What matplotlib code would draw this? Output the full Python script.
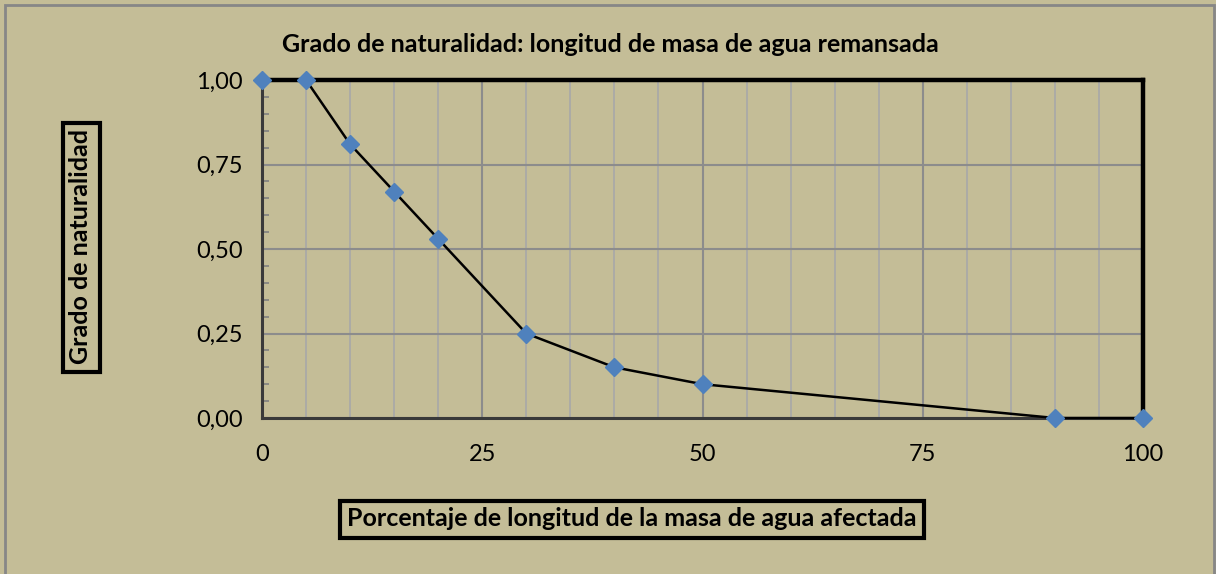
import matplotlib
matplotlib.use("Agg")
import matplotlib.pyplot as plt
from matplotlib.patches import Rectangle
from matplotlib.ticker import MultipleLocator, FuncFormatter

# Data
pct_afectada = [0, 5, 10, 15, 20, 30, 40, 50, 90, 100]
grado = [1.00, 1.00, 0.81, 0.67, 0.53, 0.25, 0.15, 0.10, 0.00, 0.00]
x_ticks = [0, 25, 50, 75, 100]
y_ticks = [0.00, 0.25, 0.50, 0.75, 1.00]

title = "Grado de naturalidad: longitud de masa de agua remansada"
xlabel = "Porcentaje de longitud de la masa de agua afectada"
ylabel = "Grado de naturalidad"

BG = "#C4BD97"
plt.rcParams['font.family'] = ['Lato', 'DejaVu Sans']

W, H = 1216, 574
fig = plt.figure(figsize=(W / 100, H / 100), dpi=100, facecolor=BG)

# outer border
fig.add_artist(Rectangle((5 / W, -0.01), (1214 - 5) / W, (574 - 5) / H + 0.01,
                         transform=fig.transFigure, fill=False,
                         edgecolor="#878787", lw=2))

x0, x1 = 262, 1143
yt, yb = 80, 418
ax = fig.add_axes([x0 / W, 1 - yb / H, (x1 - x0) / W, (yb - yt) / H])
ax.set_facecolor(BG)
ax.set_xlim(0, 100)
ax.set_ylim(0, 1)

ax.xaxis.set_major_locator(MultipleLocator(25))
ax.xaxis.set_minor_locator(MultipleLocator(5))
ax.yaxis.set_major_locator(MultipleLocator(0.25))
ax.yaxis.set_minor_locator(MultipleLocator(0.05))
ax.set_xticks(x_ticks)
ax.set_yticks(y_ticks)
ax.yaxis.set_major_formatter(FuncFormatter(lambda v, p: f"{v:.2f}".replace(".", ",")))

ax.grid(which="major", color="#8C8C8C", lw=1.5)
ax.grid(which="minor", axis="x", color="#A8A8A8", lw=1.2)
ax.set_axisbelow(True)

ax.tick_params(axis="both", which="major", length=0, labelsize=17)
ax.tick_params(axis="y", which="major", pad=14)
ax.tick_params(axis="x", which="major", pad=19)
ax.tick_params(axis="x", which="minor", length=0)
ax.tick_params(axis="y", which="minor", direction="in", length=5, width=1.2, color="#808080")

for s in ("top", "right"):
    ax.spines[s].set_color("black")
    ax.spines[s].set_linewidth(3.2)
for s in ("left", "bottom"):
    ax.spines[s].set_color("#3A3A3A")
    ax.spines[s].set_linewidth(2.2)

ax.plot(pct_afectada, grado, color="black", lw=1.8, marker="D", markersize=9,
        markerfacecolor="#4F81BD", markeredgecolor="#4F81BD", clip_on=False, zorder=5)

fig.text(610 / W, 1 - 44 / H, title, ha="center", va="center",
         fontsize=18, fontweight="bold")

box = dict(boxstyle="square,pad=0.28", facecolor=BG, edgecolor="black", lw=3)
fig.text(81 / W, 1 - 247 / H, ylabel, ha="center", va="center", rotation=90,
         fontsize=18, fontweight="bold", bbox=box)
fig.text(632 / W, 1 - 519 / H, xlabel, ha="center", va="center",
         fontsize=18, fontweight="bold", bbox=box)

fig.savefig("out.png", dpi=100, facecolor=BG)
